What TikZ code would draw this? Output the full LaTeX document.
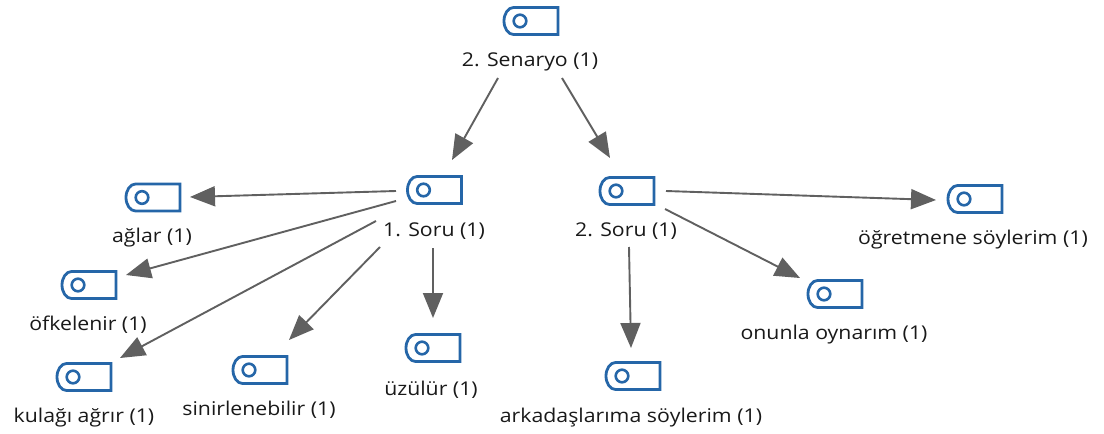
\documentclass[tikz,border=0pt]{standalone}
\usepackage{fontspec}
\setmainfont[FakeStretch=1.12]{Open Sans}
\usetikzlibrary{arrows.meta}
\definecolor{iconblue}{HTML}{2566A8}
\definecolor{arrowgrey}{HTML}{606060}
\tikzset{
  iconbox/.style={minimum width=56pt,minimum height=28.5pt,inner sep=0pt,outer sep=0pt},
  iconline/.style={draw=iconblue,line width=2.8pt},
  itemlabel/.style={inner sep=0pt,outer sep=0pt,yshift=-1.5pt,text=black!90,font=\fontsize{19}{22}\selectfont},
  link/.style={draw=arrowgrey,line width=1.9pt,-{Triangle[length=25pt,width=20pt]}}
}
\newcommand{\iconitem}[3]{% name, x, y
  \node[iconbox] (#1) at (#2,#3) {};
  \draw[iconline] ([shift={(-17.5,-13.5)}]#1.center) -- ([shift={(27,-13.5)}]#1.center) -- ([shift={(27,13.5)}]#1.center) -- ([shift={(-17.5,13.5)}]#1.center) arc[start angle=270,end angle=90,x radius=9.5pt,y radius=13.5pt] -- cycle;
  \draw[iconline,line width=2.6pt] ([shift={(-11,0)}]#1.center) circle[radius=6.3pt];
}
\newcommand{\conn}[4]{\draw[link] ([shift={(#2)}]#1.center) -- ([shift={(#4)}]#3.center);}
\begin{document}
\begin{tikzpicture}[x=1pt,y=-1pt]
\useasboundingbox[fill=white] (0,0) rectangle (1104,434);
\iconitem{rooticon}{531}{21}
\iconitem{qai}{434.5}{190}
\iconitem{qbi}{627}{191}
\iconitem{agi}{153}{197.5}
\iconitem{ofi}{89}{285}
\iconitem{kui}{84}{377}
\iconitem{sii}{260}{370}
\iconitem{uzi}{433}{348}
\iconitem{ari}{633}{376}
\iconitem{oni}{835}{294}
\iconitem{ogi}{975}{199}
\node[itemlabel] (rootl) at (530,60) {2. Senaryo (1)};
\node[itemlabel] (qal) at (434,230) {1. Soru (1)};
\node[itemlabel] (qbl) at (626,230) {2. Soru (1)};
\node[itemlabel] (agl) at (152,236) {ağlar (1)};
\node[itemlabel] (ofl) at (88,323) {öfkelenir (1)};
\node[itemlabel] (kul) at (84,416) {kulağı ağrır (1)};
\node[itemlabel] (sil) at (259,408) {sinirlenebilir (1)};
\node[itemlabel] (uzl) at (431,388) {üzülür (1)};
\node[itemlabel] (arl) at (631,416) {arkadaşlarıma söylerim (1)};
\node[itemlabel] (onl) at (834,333) {onunla oynarım (1)};
\node[itemlabel] (ogl) at (973,238) {öğretmene söylerim (1)};
\conn{rootl}{-32,16.5}{qai}{17.5,-30}
\conn{rootl}{32,16.5}{qbi}{-17,-33}
\conn{qai}{-38.5,1}{agi}{37,-0.5}
\conn{qai}{-38.5,11}{ofi}{37,-10}
\conn{qal}{-58,-10.5}{kui}{36,-19}
\conn{qal}{-54,15.5}{sii}{29,-30}
\conn{qal}{-1,16.5}{uzi}{0,-30}
\conn{qbl}{3,15.5}{ari}{-2,-28}
\conn{qbi}{38,18}{oni}{-35,-16}
\conn{qbi}{39,0}{ogi}{-39,1}
\end{tikzpicture}
\end{document}
